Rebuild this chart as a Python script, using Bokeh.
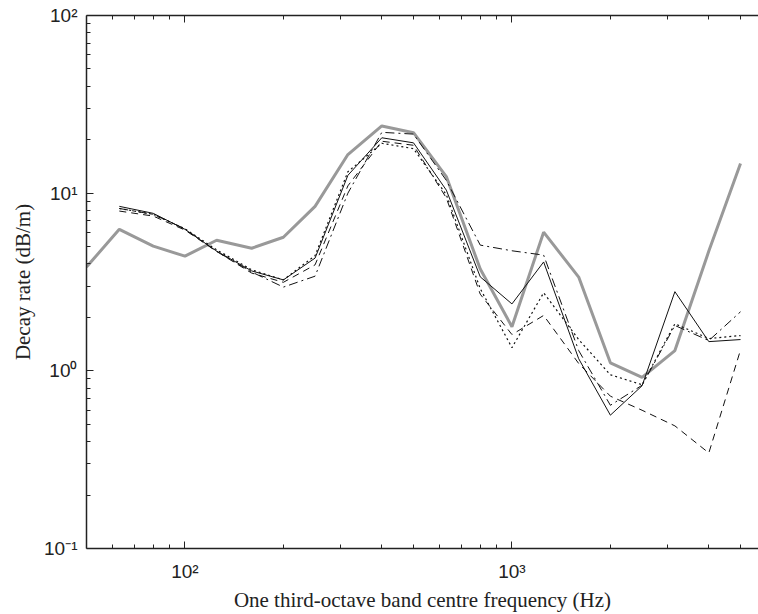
from bokeh.plotting import figure
from bokeh.models import Range1d, FixedTicker, LogAxis, CustomJSTickFormatter
from bokeh.embed import file_html
from bokeh.resources import INLINE

# One-third-octave band centre frequencies (Hz)
freqs = [50, 63, 80, 100, 125, 160, 200, 250, 315, 400, 500, 630, 800,
         1000, 1250, 1600, 2000, 2500, 3150, 4000, 5000]
freqs_b = freqs[1:]

# Decay rate (dB/m)
grey_line = [3.84, 6.26, 5.03, 4.42, 5.43, 4.90, 5.65, 8.43, 16.5, 23.9, 21.9,
             12.4, 3.74, 1.77, 6.03, 3.37, 1.11, 0.918, 1.30, 4.72, 14.7]
solid_line = [8.43, 7.70, 6.26, 4.72, 3.65, 3.25, 4.31, 12.6, 20.5, 19.2,
              10.4, 3.38, 2.38, 4.10, 1.17, 0.563, 0.824, 2.79, 1.46, 1.50]
dotted_line = [8.2, 7.6, 6.3, 4.8, 3.7, 3.25, 4.45, 13.2, 19.1, 17.8,
               9.8, 2.9, 1.35, 2.75, 1.5, 0.95, 0.835, 1.84, 1.52, 1.58]
dashed_line = [7.93, 7.43, 6.2, 4.7, 3.55, 3.15, 3.95, 11.0, 19.6, 18.6,
               9.4, 2.7, 1.6, 2.05, 1.1, 0.72, 0.6, 0.49, 0.345, 1.31]
dashdot_line = [8.2, 7.6, 6.3, 4.7, 3.6, 2.96, 3.41, 10.0, 22.0, 21.5,
                11.8, 5.1, 4.74, 4.48, 1.3, 0.64, 0.83, 1.8, 1.48, 2.15]

x_major = [100, 1000]
x_minor = [60, 70, 80, 90, 200, 300, 400, 500, 600, 700, 800, 900,
           2000, 3000, 4000, 5000]
y_major = [0.1, 1, 10, 100]
y_minor = [m * d for d in (0.1, 1, 10) for m in range(2, 10)]

p = figure(width=758, height=614, x_axis_type="log", y_axis_type="log",
           x_range=Range1d(50, 5675), y_range=Range1d(0.1, 100),
           output_backend="svg", toolbar_location=None,
           min_border_left=86, min_border_right=0, min_border_top=15,
           min_border_bottom=63, background_fill_color="white",
           border_fill_color="white")
p.outline_line_color = None
p.grid.visible = False

fmt_code = """
const e = Math.round(Math.log10(tick));
const m = {"-":"\\u207b","0":"\\u2070","1":"\\u00b9","2":"\\u00b2","3":"\\u00b3"};
return "10" + String(e).split("").map(c => m[c]).join("");
"""

xa = p.xaxis[0]
xa.ticker = FixedTicker(ticks=x_major, minor_ticks=x_minor)
xa.formatter = CustomJSTickFormatter(code=fmt_code)
ya = p.yaxis[0]
ya.ticker = FixedTicker(ticks=y_major, minor_ticks=y_minor)
ya.formatter = CustomJSTickFormatter(code=fmt_code)

for ax in (xa, ya):
    ax.major_tick_in = 7
    ax.major_tick_out = 0
    ax.minor_tick_in = 4
    ax.minor_tick_out = 0
    ax.axis_line_width = 1.5
    ax.axis_line_color = "#222222"
    ax.major_tick_line_color = "#222222"
    ax.minor_tick_line_color = "#222222"
    ax.major_label_text_font = "Liberation Sans"
    ax.major_label_text_font_size = "19px"
    ax.major_label_text_color = "#222222"
    ax.axis_label_text_font = "Liberation Serif"
    ax.axis_label_text_font_style = "normal"
    ax.axis_label_text_font_size = "21px"
    ax.axis_label_text_color = "#222222"

xa.axis_label = "One third-octave band centre frequency (Hz)"
ya.axis_label = "Decay rate (dB/m)"
xa.major_label_standoff = 12
ya.major_label_standoff = 9
xa.axis_label_standoff = 3
ya.axis_label_standoff = 6

top = LogAxis(ticker=FixedTicker(ticks=x_major, minor_ticks=x_minor),
              formatter=CustomJSTickFormatter(code="return '';"),
              major_tick_in=7, major_tick_out=0, minor_tick_in=4,
              minor_tick_out=0, axis_line_width=1.5,
              axis_line_color="#222222", major_tick_line_color="#222222",
              minor_tick_line_color="#222222")
p.add_layout(top, "above")

p.line(freqs, grey_line, line_color="#999999", line_width=3)
p.line(freqs_b, solid_line, line_color="#111111", line_width=1)
p.line(freqs_b, dotted_line, line_color="#111111", line_width=1.2,
       line_dash="2 3")
p.line(freqs_b, dashed_line, line_color="#111111", line_width=1,
       line_dash="7 5")
p.line(freqs_b, dashdot_line, line_color="#111111", line_width=1,
       line_dash="9 4 2 4")

open("out.html", "w").write(file_html(p, INLINE))
